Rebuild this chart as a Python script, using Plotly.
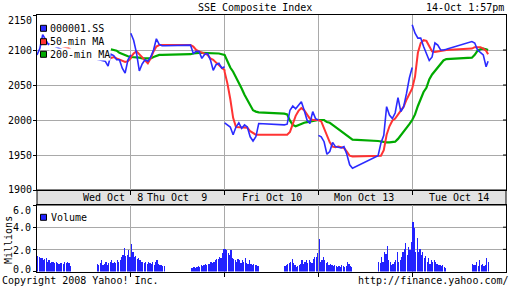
import plotly.graph_objects as go

# ---------------- data ----------------
day_labels = ["Wed Oct\u00a0\u00a08", "Thu Oct\u00a0\u00a09", "Fri Oct 10", "Mon Oct 13", "Tue Oct 14"]
sessions = ["Wed AM", "Wed PM", "Thu AM", "Thu PM", "Fri AM", "Fri PM", "Mon AM", "Mon PM", "Tue AM", "Tue PM"]
price_ticks = [1900, 1950, 2000, 2050, 2100, 2150]
vol_ticks = [0, 2, 4, 6]

# 000001.SS price, sampled every 10 minutes within each session
close = [
    [2093, 2102, 2122, 2114, 2108, 2110, 2106, 2104, 2102, 2100, 2098, 2093, 2088],
    [2087, 2086, 2086, 2084, 2077, 2094, 2092, 2086, 2086, 2074, 2067, 2086, 2093],
    [2124, 2114, 2096, 2070, 2080, 2086, 2084, 2090, 2100, 2116, 2108, 2106, 2106],
    [2107, 2095, 2098, 2098, 2088, 2094, 2095, 2086, 2071, 2079, 2081, 2074, 2076],
    [1996, 1993, 1990, 1979, 1990, 1996, 1988, 1993, 1990, 1976, 1970, 1976, 1995],
    [1993, 1994, 2014, 2020, 2016, 2021, 2026, 2014, 2000, 1995, 2012, 2002, 2000],
    [1978, 1976, 1969, 1951, 1955, 1968, 1962, 1961, 1960, 1962, 1951, 1936, 1931],
    [1949, 1967, 1978, 2019, 2007, 2002, 2010, 2032, 2012, 2019, 2038, 2060, 2075],
    [2136, 2124, 2117, 2117, 2105, 2096, 2085, 2090, 2110, 2107, 2100, 2100, 2101],
    [2112, 2110, 2100, 2097, 2093, 2076, 2084],
]
ma50 = [
    [2110, 2109, 2108, 2106, 2105, 2104, 2103, 2100],
    [2090, 2089, 2088, 2087, 2087, 2088, 2090, 2088, 2086, 2084, 2083, 2084, 2088],
    [2090, 2095, 2098, 2094, 2090, 2086, 2081, 2088, 2098, 2105, 2107, 2107, 2107],
    [2107, 2105, 2100, 2098, 2096, 2095, 2093, 2088, 2086, 2082, 2078, 2075, 2071],
    [2069, 2052, 2030, 2003, 1990, 1990, 1990, 1990, 1989, 1984, 1981, 1979, 1979],
    [1979, 1979, 1983, 1996, 2006, 2013, 2017, 2014, 2008, 2002, 2000, 2000, 2000],
    [2000, 1998, 1988, 1978, 1968, 1962, 1961, 1962, 1961, 1960, 1955, 1949, 1948],
    [1948, 1949, 1957, 1979, 1991, 1999, 2002, 2008, 2014, 2019, 2029, 2036, 2044],
    [2045, 2062, 2096, 2110, 2114, 2113, 2105, 2098, 2097, 2098, 2098, 2099, 2100],
    [2102, 2104, 2104, 2104, 2102, 2099, 2094],
]
ma200 = [
    [],
    [2101, 2100, 2099, 2096, 2094, 2092, 2091, 2090],
    [2090, 2090, 2089, 2089, 2088, 2088, 2088, 2088, 2090, 2092, 2093, 2093, 2093],
    [2094, 2095, 2096, 2096, 2096, 2096, 2096, 2095, 2096, 2096, 2095, 2094, 2093],
    [2093, 2084, 2075, 2069, 2061, 2055, 2045, 2036, 2028, 2021, 2014, 2012, 2011],
    [2009, 2008, 1999, 1993, 1991, 1993, 1995, 1996, 1997, 1998, 1999, 2000, 2000],
    [2000, 2000, 2000, 1997, 1996, 1993, 1990, 1986, 1983, 1981, 1977, 1974, 1972],
    [1970, 1969, 1968, 1968, 1968, 1968, 1969, 1973, 1978, 1984, 1989, 1994, 2000],
    [2000, 2008, 2020, 2030, 2040, 2046, 2058, 2065, 2070, 2076, 2081, 2085, 2087],
    [2089, 2093, 2099, 2101, 2102, 2101, 2100],
]
# volume (millions), 5-minute bars
volume = [
    [1.4, 1.3, 1.2, 1.2, 1.0, 1.1, 1.2, 0.9, 1.0, 0.8, 0.9, 0.9, 0.8, 0.9, 0.8, 0.7, 0.8, 0.8, 0.7, 0.9, 0.8, 0.9, 0.8, 0.5],
    [0.7, 0.6, 0.8, 1.0, 0.6, 0.7, 0.9, 0.6, 0.8, 0.9, 1.0, 0.8, 0.9, 0.8, 1.0, 0.9, 1.0, 1.3, 1.5, 2.1, 1.4, 1.5, 1.9, 1.3],
    [2.5, 1.8, 1.3, 1.4, 1.1, 1.2, 1.0, 0.9, 0.9, 0.8, 0.9, 0.7, 0.9, 0.8, 0.7, 0.9, 0.6, 0.9, 1.0, 0.7, 0.6, 0.6, 0.5, 0.5],
    [0.3, 0.3, 0.4, 0.3, 0.4, 0.5, 0.4, 0.6, 0.5, 0.6, 0.7, 0.6, 0.7, 0.7, 0.9, 0.8, 0.9, 1.0, 1.1, 1.1, 1.3, 1.2, 1.7, 2.0],
    [2.0, 1.9, 1.7, 1.5, 1.9, 1.2, 1.1, 1.0, 0.9, 1.1, 1.0, 0.8, 1.0, 0.9, 1.2, 0.8, 0.7, 1.0, 0.7, 0.6, 0.7, 0.6, 0.6, 0.5],
    [0.5, 0.6, 0.7, 0.8, 0.9, 1.1, 0.8, 0.6, 0.4, 0.5, 0.6, 0.7, 1.0, 0.7, 0.9, 1.0, 0.8, 1.0, 0.9, 0.8, 1.1, 1.3, 1.3, 1.7],
    [2.9, 0.9, 1.0, 1.3, 1.0, 0.8, 0.9, 0.6, 0.7, 0.6, 0.5, 0.6, 0.5, 0.4, 0.5, 0.4, 0.6, 0.5, 0.4, 0.5, 0.9, 0.7, 0.5, 0.4],
    [0.9, 0.8, 1.3, 0.9, 1.8, 1.6, 2.3, 1.0, 0.9, 0.6, 0.7, 0.9, 1.0, 1.8, 0.9, 1.0, 1.3, 1.8, 2.0, 2.6, 1.5, 2.2, 1.9, 2.7],
    [4.5, 3.9, 1.8, 3.0, 1.8, 2.0, 1.5, 1.8, 1.2, 1.4, 0.9, 1.2, 0.7, 1.0, 0.9, 1.0, 0.9, 0.7, 0.6, 0.6, 0.5, 0.6, 0.4, 0.3],
    [0.7, 0.6, 0.6, 0.9, 0.5, 1.0, 0.6, 0.7, 0.5, 0.6, 1.2, 0.9],
]

# ---------------- time axis (trading minutes, 330 per day incl. lunch) ----------------
DAY = 330
session_start = []
for d in range(5):
    session_start += [d * DAY, d * DAY + 210]
full_offsets = list(range(0, 121, 10))
last_offsets = [0, 10, 20, 30, 40, 50, 57]
offsets = [full_offsets] * 9 + [last_offsets]


def build(series, break_days):
    xs, ys = [], []
    for i, vals in enumerate(series):
        if not vals:
            continue
        offs = offsets[i][-len(vals):] if i < 9 else offsets[i][:len(vals)]
        if break_days and i % 2 == 0 and xs:
            xs.append(None)
            ys.append(None)
        xs += [session_start[i] + o for o in offs]
        ys += vals
    return xs, ys


vx, vy = [], []
for i, vals in enumerate(volume):
    for j, v in enumerate(vals):
        vx.append(session_start[i] + 2.5 + 5 * j)
        vy.append(v)

W, H = 512, 288
def px(x):
    return x / W
def py(y):
    return 1 - y / H

FONT = "DejaVu Sans Mono"
BLUE = "#2b2bff"
RED = "#ff3333"
GREEN = "#00aa00"
GRID = "#a9a9a9"

fig = go.Figure()
gx, gy = build(ma200, False)
rx, ry = build(ma50, False)
bx, by = build(close, True)
fig.add_trace(go.Scatter(x=gx, y=gy, mode="lines", line=dict(color=GREEN, width=2.2), xaxis="x", yaxis="y"))
fig.add_trace(go.Scatter(x=rx, y=ry, mode="lines", line=dict(color=RED, width=2), xaxis="x", yaxis="y"))
fig.add_trace(go.Scatter(x=bx, y=by, mode="lines", line=dict(color=BLUE, width=1.6), xaxis="x", yaxis="y"))
fig.add_trace(go.Bar(x=vx, y=vy, width=4.3, marker=dict(color="#2222ff", line=dict(width=0)), xaxis="x2", yaxis="y2"))

day_bounds = [DAY, 2 * DAY, 3 * DAY, 4 * DAY]
xdom = [px(37), px(506)]
common_x = dict(range=[0, 5 * DAY], domain=xdom, tickvals=day_bounds, showticklabels=False,
                showgrid=True, gridcolor=GRID, gridwidth=1, zeroline=False,
                showline=True, linecolor="black", linewidth=1, mirror=True,
                ticks="outside", ticklen=4, tickcolor="black")
fig.update_layout(
    width=W, height=H, margin=dict(l=0, r=0, t=0, b=0),
    paper_bgcolor="white", plot_bgcolor="white", showlegend=False,
    xaxis=dict(**common_x, anchor="y"),
    yaxis=dict(range=[1900, 2150], domain=[py(190), py(15)], tickvals=price_ticks, showticklabels=False,
               showgrid=True, gridcolor=GRID, zeroline=False, showline=True, linecolor="black",
               linewidth=1, mirror=True, ticks="outside", ticklen=3, tickcolor="black", anchor="x"),
    xaxis2=dict(**common_x, anchor="y2"),
    yaxis2=dict(range=[0, 6], domain=[py(271.5), py(205)], tickvals=vol_ticks, showticklabels=False,
                showgrid=True, gridcolor=GRID, zeroline=False, showline=True, linecolor="black",
                linewidth=1, mirror=True, ticks="outside", ticklen=3, tickcolor="black", anchor="x2"),
    bargap=0,
)

shapes = [
    dict(type="rect", xref="paper", yref="paper", x0=px(37), x1=px(506), y0=py(205), y1=py(190),
         fillcolor="#e3e3e3", line=dict(color="black", width=1), layer="below"),
]
# inner right-side ticks
for v in price_ticks[1:-1]:
    shapes.append(dict(type="line", xref="x", yref="y", x0=5 * DAY - 10.5, x1=5 * DAY, y0=v, y1=v,
                       line=dict(color="black", width=1)))
for v in vol_ticks[1:-1]:
    shapes.append(dict(type="line", xref="x2", yref="y2", x0=5 * DAY - 10.5, x1=5 * DAY, y0=v, y1=v,
                       line=dict(color="black", width=1)))

# legend squares
legend_rows = [("000001.SS", BLUE, 28.3), ("50-min MA", RED, 41.7), ("200-min MA", GREEN, 54.3)]
annotations = []
for name, col, yy in legend_rows:
    shapes.append(dict(type="rect", xref="paper", yref="paper", x0=px(40.5), x1=px(46.5),
                       y0=py(yy + 3), y1=py(yy - 3), fillcolor=col, line=dict(color="black", width=1)))
    annotations.append(dict(x=px(48.5), y=py(yy), xref="paper", yref="paper", text=name, showarrow=False,
                            xanchor="left", yanchor="middle", bgcolor="white", borderpad=0,
                            font=dict(family=FONT, size=10, color="black")))
shapes.append(dict(type="rect", xref="paper", yref="paper", x0=px(40.5), x1=px(46.5),
                   y0=py(220.3), y1=py(214.3), fillcolor="#2222ff", line=dict(color="black", width=1)))
annotations.append(dict(x=px(48.5), y=py(217.5), xref="paper", yref="paper", text="Volume", showarrow=False,
                        xanchor="left", yanchor="middle", font=dict(family=FONT, size=10, color="black")))

# y tick labels
price_shift = {2150: -5, 1900: 1}
for v in price_ticks:
    annotations.append(dict(x=px(34), y=v, xref="paper", yref="y", text=str(v), showarrow=False,
                            xanchor="right", yanchor="middle", yshift=price_shift.get(v, 0),
                            font=dict(family=FONT, size=10, color="black")))
vol_shift = {6: -5.5, 0: 2.5, 2: -1}
for v in vol_ticks:
    annotations.append(dict(x=px(33), y=v, xref="paper", yref="y2", text=f"{v:.1f}", showarrow=False,
                            xanchor="right", yanchor="middle", yshift=vol_shift.get(v, 0),
                            font=dict(family=FONT, size=10, color="black")))

# day labels in band
day_label_pos = [268, 494, 827, 1152, 1485]
for lab, xp in zip(day_labels, day_label_pos):
    annotations.append(dict(x=xp, y=py(197.5), xref="x", yref="paper", text=lab, showarrow=False,
                            xanchor="center", yanchor="middle", font=dict(family=FONT, size=10, color="black")))

annotations += [
    dict(x=px(255), y=py(7.5), xref="paper", yref="paper", text="SSE Composite Index", showarrow=False,
         xanchor="center", yanchor="middle", font=dict(family=FONT, size=10, color="black")),
    dict(x=px(506), y=py(7.5), xref="paper", yref="paper", text="14-Oct 1:57pm", showarrow=False,
         xanchor="right", yanchor="middle", font=dict(family=FONT, size=10, color="black")),
    dict(x=px(8), y=py(240), xref="paper", yref="paper", text="Millions", showarrow=False, textangle=-90,
         xanchor="center", yanchor="middle", font=dict(family=FONT, size=10, color="black")),
    dict(x=px(0), y=py(280), xref="paper", yref="paper", text="Copyright 2008 Yahoo! Inc.", showarrow=False,
         xanchor="left", yanchor="middle", font=dict(family=FONT, size=10, color="black")),
    dict(x=px(511), y=py(280), xref="paper", yref="paper", text="http://finance.yahoo.com/", showarrow=False,
         xanchor="right", yanchor="middle", font=dict(family=FONT, size=10, color="black")),
]
fig.update_layout(shapes=shapes, annotations=annotations)
fig.write_html("out.html", config={"displayModeBar": False, "staticPlot": True})
